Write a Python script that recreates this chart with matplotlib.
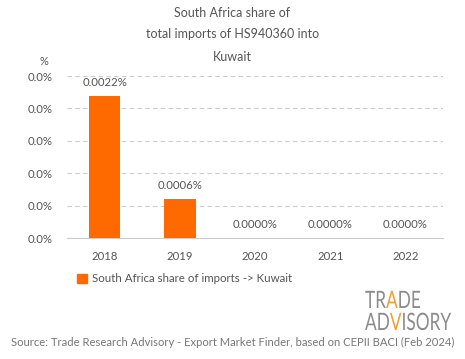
import matplotlib
matplotlib.use("Agg")
import matplotlib.pyplot as plt
from matplotlib.ticker import FuncFormatter
from matplotlib.textpath import TextPath, text_to_path
from matplotlib.font_manager import FontProperties
from matplotlib.patches import PathPatch
from matplotlib.transforms import Affine2D, IdentityTransform

years = ["2018", "2019", "2020", "2021", "2022"]
share = [0.0022, 0.0006, 0.0, 0.0, 0.0]
labels = ["0.0022%", "0.0006%", "0.0000%", "0.0000%", "0.0000%"]
yticks = [0, 0.0005, 0.001, 0.0015, 0.002, 0.0025]

orange = "#ff6a00"
txt = "#555555"
plt.rcParams['font.family'] = ['Lato', 'DejaVu Sans']

fig = plt.figure(figsize=(4.65, 3.59), dpi=100)
ax = fig.add_axes([0.144, 0.337, 0.809, 0.451])

x = range(len(years))
ax.bar(x, share, width=0.42, color=orange, zorder=3)
for i, v in enumerate(share):
    ax.text(i, v + 0.00012, labels[i], ha="center", va="bottom", fontsize=8.2, color=txt)

ax.set_xlim(-0.5, 4.5)
ax.set_ylim(0, 0.0025)
ax.set_yticks(yticks)
ax.yaxis.set_major_formatter(FuncFormatter(lambda v, p: "%.1f%%" % v))
ax.set_xticks(list(x))
ax.set_xticklabels(years)
ax.tick_params(axis="both", length=0, labelsize=8.2, labelcolor=txt)
ax.tick_params(axis="x", pad=9)
ax.tick_params(axis="y", pad=10)
ax.grid(axis="y", color="#cccccc", linestyle=(0, (4, 3)), linewidth=0.8, zorder=0)
for s in ["top", "right", "left"]:
    ax.spines[s].set_visible(False)
ax.spines["bottom"].set_color("#cccccc")
ax.spines["bottom"].set_linewidth(0.8)

fig.text(0.5, 0.965, "South Africa share of", ha="center", va="center", fontsize=9, color=txt)
fig.text(0.5, 0.905, "total imports of HS940360 into", ha="center", va="center", fontsize=9, color=txt)
fig.text(0.5, 0.841, "Kuwait", ha="center", va="center", fontsize=9, color=txt)
fig.text(0.095, 0.83, "%", ha="center", va="center", fontsize=8, color=txt)

# legend
ax.legend([plt.Rectangle((0, 0), 1, 1, color=orange)], ["South Africa share of imports -> Kuwait"],
          loc="upper left", bbox_to_anchor=(0.0, -0.155), frameon=False, fontsize=8.3,
          handlelength=0.8, handleheight=0.8, handletextpad=0.5, labelcolor=txt)

# logo, drawn as condensed text paths in pixel coordinates
logo = "#8c8c8c"
accent = "#f0a030"
fp = FontProperties(family="Lato")
size = 24
sx, sy = 0.72, 1.0

def logo_row(pieces, x0, y0):
    xx = x0
    for s, c in pieces:
        tp = TextPath((0, 0), s, size=size, prop=fp)
        tr = Affine2D().scale(sx, sy).translate(xx, y0)
        fig.add_artist(PathPatch(tr.transform_path(tp), facecolor=c, edgecolor="none",
                                 transform=IdentityTransform()))
        w, h, d = text_to_path.get_text_width_height_descent(s, fp, ismath=False)
        xx += w * size / fp.get_size_in_points() * sx

H = 359
logo_row([("TR", logo), ("A", accent), ("DE", logo)], 365, H - 308)
logo_row([("AD", logo), ("V", accent), ("ISORY", logo)], 365, H - 330)

fig.text(0.5, 0.045, "Source: Trade Research Advisory - Export Market Finder, based on CEPII BACI (Feb 2024)",
         ha="center", va="center", fontsize=8.1, color="#777777")

fig.savefig("out.png", dpi=100)
